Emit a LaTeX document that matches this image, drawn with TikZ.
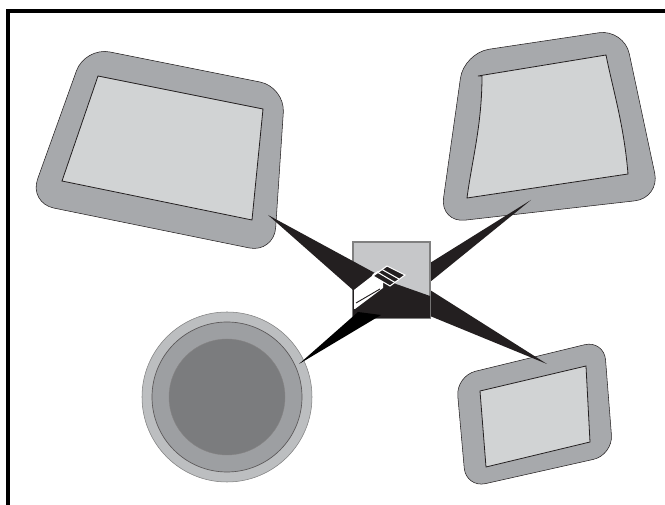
\documentclass[tikz,border=0pt]{standalone}
\definecolor{panel}{HTML}{A7A9AC}
\definecolor{screen}{HTML}{D1D3D4}
\definecolor{ink}{HTML}{231F20}
\definecolor{hub}{HTML}{C6C7C9}
\definecolor{ringa}{HTML}{BCBEC0}
\definecolor{ringb}{HTML}{9D9FA2}
\definecolor{ringc}{HTML}{7B7C7E}
\tikzset{
  outerpanel/.style={fill=panel,draw=ink,line width=0.4pt,rounded corners=19pt},
  innerscreen/.style={fill=screen,draw=ink,line width=0.6pt},
  wedge/.style={fill=ink,draw=none},
  frameline/.style={draw=black,line width=2.4pt}
}
\begin{document}
\begin{tikzpicture}[x=0.75pt,y=-0.75pt]
\useasboundingbox (0,0) rectangle (665,505);
\fill[white] (0,0) rectangle (665,505);
\draw[frameline] (8,505) -- (8,11) -- (665,11);
% panels
\draw[outerpanel] (85,47) -- (285,87) -- (274,253) -- (29,203) -- cycle;
\draw[innerscreen] (98,76) -- (263,109) -- (252,220) -- (62,181) -- cycle;
\draw[outerpanel] (464,53) -- (624,29) -- (660,198) -- (440,223) -- cycle;
\draw[innerscreen] (478,76) -- (606,55) .. controls (613,90) and (624,125) .. (628,174) -- (467,198) .. controls (472,160) and (482,125) .. (482,76) -- cycle;
\draw[outerpanel,rounded corners=15pt] (456,376) -- (604,340) -- (613,455) -- (466,488) -- cycle;
\draw[innerscreen] (480,391) -- (586,366) -- (590,442) -- (486,467) -- cycle;
% lens
\draw[fill=ringa,draw=gray,line width=0.4pt] (227,397) circle[radius=85];
\draw[fill=ringb,draw=ink!75,line width=0.5pt] (227,397) circle[radius=75];
\draw[fill=ringc,draw=ink!55,line width=0.3pt] (227,397) circle[radius=58];
% wedges behind the hub
\fill[wedge] (531,200) -- (430,263) -- (430,282) -- cycle;
\fill[wedge] (547,364) -- (430,290) -- (430,316) -- cycle;
% hub
\draw[fill=hub,draw=gray,line width=0.8pt] (353,242) rectangle (430,318);
% black over hub
\fill[wedge] (268,215) -- (373,272) -- (396,284) -- (430,296) -- (430,318) -- (353,318) -- (353,290) -- cycle;
\fill[black] (299,364) -- (358,312) -- (381,315) -- cycle;
% projector
\fill[white] (354,290) -- (372,276) -- (373,274) -- (378,271) -- (383,276) -- (383,288) -- (355,309) -- (354,309) -- cycle;
\draw[ink,line width=0.7pt] (356,303) -- (380,289);
\draw[white,line width=0.8pt,fill=ink] (387,266) -- (405,275) -- (390,286) -- (373,276) -- cycle;
\draw[white,line width=0.8pt] (382,269.5) -- (399,279);
\draw[white,line width=0.8pt] (378,272.5) -- (395,282.5);
\end{tikzpicture}
\end{document}
